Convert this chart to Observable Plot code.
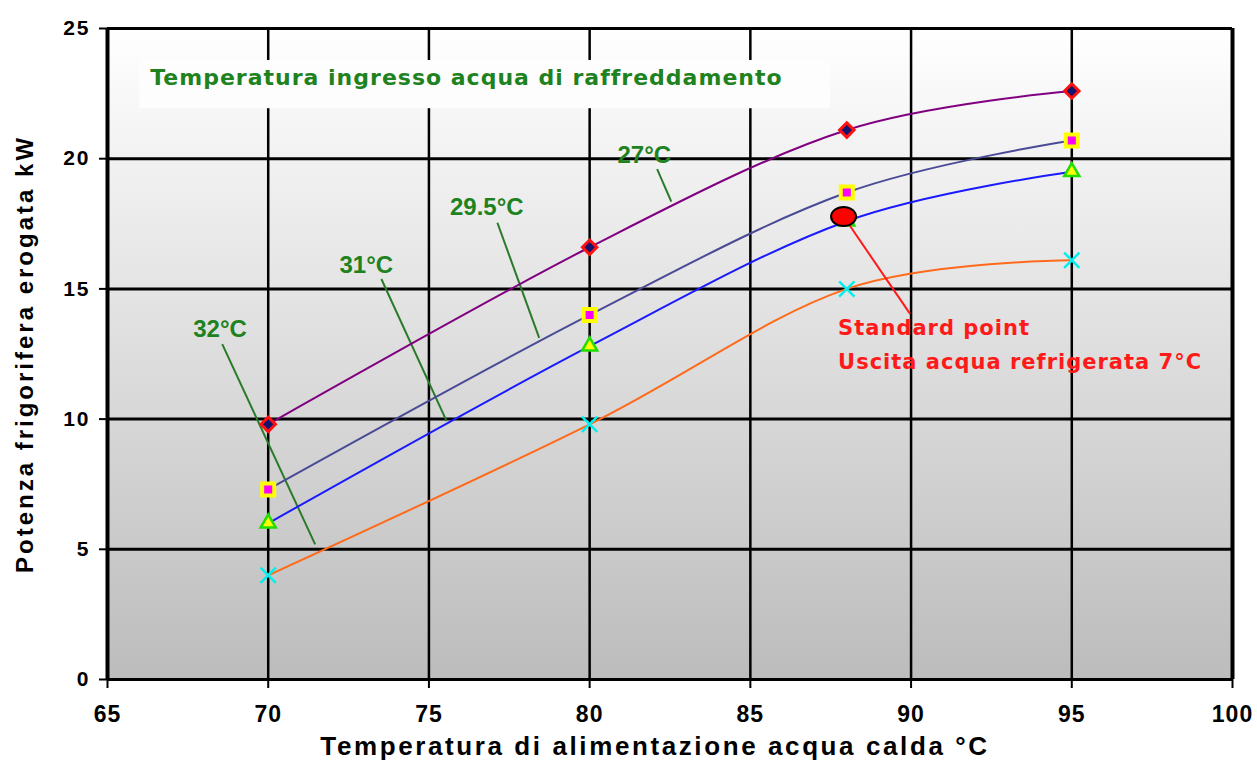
<!DOCTYPE html>
<html>
<head>
<meta charset="utf-8">
<script src="https://cdn.jsdelivr.net/npm/d3@7"></script>
<script src="https://cdn.jsdelivr.net/npm/@observablehq/plot@0.6"></script>
<style>
  html, body { margin: 0; padding: 0; background: #ffffff; }
  #chart svg { display: block; }
</style>
</head>
<body>
<div id="chart"></div>
<script>
// ---- data ----
const xTemps = [70, 80, 88, 95];
const p27 = [9.8, 16.6, 21.1, 22.6];
const p295 = [7.3, 14.0, 18.7, 20.7];
const p31 = [6.0, 12.8, 17.6, 19.5];
const p32 = [4.0, 9.8, 15.0, 16.1];

const seriesNames = ["27°C", "29.5°C", "31°C", "32°C"];
const seriesColors = ["#800080", "#4a4a96", "#1a1aff", "#ff6a1a"];

const xTicks = [65, 70, 75, 80, 85, 90, 95, 100];
const yTicks = [0, 5, 10, 15, 20, 25];

// label annotations (data coords): text position, leader line start/end
const labelX = [81.7, 76.8, 73.05, 68.5];
const labelY = [20.12, 18.12, 15.92, 13.46];
const leadX1 = [82.1, 77.13, 73.52, 68.57];
const leadY1 = [19.6, 17.54, 15.38, 12.88];
const leadX2 = [82.54, 78.43, 75.55, 71.46];
const leadY2 = [18.35, 13.12, 9.92, 5.19];

const standardPoint = {x: 87.9, y: 17.78};
const standardLabelPos = {x: 87.73, y: 14.15};
const standardLeaderEnd = {x: 89.97, y: 14.04};
const standardText = "Standard point\nUscita acqua refrigerata 7°C";

const titleText = "Temperatura ingresso acqua di raffreddamento";
const titleBox = {x1: 66.0, x2: 87.5, y1: 21.92, y2: 23.77};
const titlePos = {x: 66.33, y: 23.12};

const xTitle = "Temperatura di alimentazione acqua calda °C";
const yTitle = "Potenza frigorifera erogata kW";

// ---- build tables ----
const allSeries = [p27, p295, p31, p32];
const rows = [];
allSeries.forEach((vals, i) => vals.forEach((v, j) => rows.push({s: seriesNames[i], x: xTemps[j], y: v})));
const bySeries = name => rows.filter(r => r.s === name);

const labels = seriesNames.map((n, i) => ({n, x: labelX[i], y: labelY[i], x1: leadX1[i], y1: leadY1[i], x2: leadX2[i], y2: leadY2[i]}));

// custom ellipse symbol
const ellipse = {
  draw(ctx, size) {
    const rx = 12.5, ry = 9.5, k = 0.5523;
    ctx.moveTo(rx, 0);
    ctx.bezierCurveTo(rx, ry * k, rx * k, ry, 0, ry);
    ctx.bezierCurveTo(-rx * k, ry, -rx, ry * k, -rx, 0);
    ctx.bezierCurveTo(-rx, -ry * k, -rx * k, -ry, 0, -ry);
    ctx.bezierCurveTo(rx * k, -ry, rx, -ry * k, rx, 0);
    ctx.closePath();
  }
};

const green = "#1e821e";
const sans = "Liberation Sans, Arial, sans-serif";
const dejavu = "DejaVu Sans, sans-serif";

const chart = Plot.plot({
  width: 1257,
  height: 767,
  marginLeft: 107,
  marginRight: 25,
  marginTop: 28,
  marginBottom: 88,
  style: {fontFamily: sans, fontSize: "20px", fontWeight: "bold", color: "#000", background: "#fff"},
  x: {domain: [65, 100]},
  y: {domain: [0, 25]},
  marks: [
    Plot.frame({fill: "url(#bgGrad)", stroke: "none"}),
    Plot.ruleY(yTicks, {stroke: "#000", strokeWidth: 3}),
    Plot.ruleX(xTicks.filter(t => t !== 65 && t !== 100), {stroke: "#000", strokeWidth: 2.5}),
    Plot.ruleX([65, 100], {stroke: "#000", strokeWidth: 4}),
    Plot.rect([titleBox], {x1: "x1", x2: "x2", y1: "y1", y2: "y2", fill: "#fdfdfd"}),
    Plot.axisX({ticks: xTicks, tickSize: 9, tickPadding: 17, tickFormat: d => d, label: null, fontSize: 23, strokeWidth: 2}),
    Plot.axisY({ticks: yTicks, tickSize: 8, tickPadding: 9, tickFormat: d => d, label: null, fontSize: 21, strokeWidth: 2}),
    // leader lines for series labels
    Plot.link(labels, {x1: "x1", y1: "y1", x2: "x2", y2: "y2", stroke: "#2a7a2a", strokeWidth: 2}),
    Plot.text(labels, {x: "x", y: "y", text: "n", fill: green, fontSize: 24, fontWeight: "bold", fontFamily: sans}),
    // curves
    ...seriesNames.map((n, i) => Plot.line(bySeries(n), {x: "x", y: "y", stroke: seriesColors[i], strokeWidth: 2, curve: "cardinal", tension: 0})),
    // markers
    Plot.dot(bySeries("27°C"), {x: "x", y: "y", symbol: "diamond2", r: 6.5, fill: "#14146e", stroke: "#ff1010", strokeWidth: 3}),
    Plot.dot(bySeries("29.5°C"), {x: "x", y: "y", symbol: "square", r: 6.8, fill: "#ff00ff", stroke: "#ffff00", strokeWidth: 4}),
    Plot.dot(bySeries("31°C"), {x: "x", y: "y", symbol: "triangle", r: 5.6, fill: "#ffff00", stroke: "#22dd00", strokeWidth: 2.5}),
    Plot.dot(bySeries("32°C"), {x: "x", y: "y", symbol: "times", r: 7, fill: "none", stroke: "#00f0f0", strokeWidth: 2.5}),
    // standard point
    Plot.link([standardPoint], {x1: "x", y1: "y", x2: () => standardLeaderEnd.x, y2: () => standardLeaderEnd.y, stroke: "#ff1a1a", strokeWidth: 2}),
    Plot.dot([standardPoint], {x: "x", y: "y", symbol: ellipse, fill: "#ff0000", stroke: "#000", strokeWidth: 2}),
    Plot.text([standardPoint], {x: () => standardLabelPos.x, y: () => standardLabelPos.y, text: () => standardText, textAnchor: "start", lineAnchor: "top", lineHeight: 1.62, fill: "#ff1a1a", fontSize: 21, fontWeight: "bold", fontFamily: dejavu}),
    // title inside plot
    Plot.text([titlePos], {x: "x", y: "y", text: () => titleText, textAnchor: "start", fill: green, fontSize: 22, fontWeight: "bold", fontFamily: dejavu}),
    // axis titles
    Plot.text([xTitle], {frameAnchor: "bottom", textAnchor: "middle", dx: -15, dy: 75, text: d => d, fontSize: 26, fontWeight: "bold", fill: "#000"}),
    Plot.text([yTitle], {frameAnchor: "left", textAnchor: "middle", dx: -82, rotate: -90, text: d => d, fontSize: 24, fontWeight: "bold", fill: "#000"})
  ]
});

const svg = d3.select(chart);
// gradient background definition
const defs = svg.insert("defs", ":first-child");
const grad = defs.append("linearGradient").attr("id", "bgGrad").attr("x1", 0).attr("y1", 0).attr("x2", 0).attr("y2", 1);
grad.append("stop").attr("offset", "0%").attr("stop-color", "#ffffff");
grad.append("stop").attr("offset", "100%").attr("stop-color", "#bcbcbc");

// letter spacing tweaks
function spacing(match, px) {
  svg.selectAll("text").filter(function () { return this.textContent.includes(match); }).style("letter-spacing", px + "px");
}
spacing(xTitle, 2.6);
spacing(yTitle, 3);
spacing(titleText, 1);
spacing("Standard point", 1);
svg.selectAll('g[aria-label="x-axis tick label"] text').style("letter-spacing", "1px");
svg.selectAll('g[aria-label="y-axis tick label"] text').style("letter-spacing", "2px");

document.getElementById("chart").appendChild(chart);
</script>
</body>
</html>
